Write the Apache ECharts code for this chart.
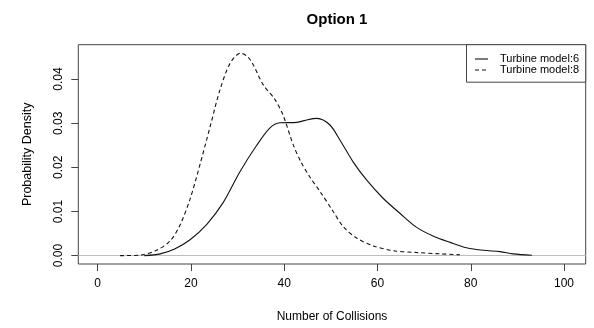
<!DOCTYPE html>
<html>
<head>
<meta charset="utf-8">
<script src="https://cdn.jsdelivr.net/npm/echarts@6/dist/echarts.min.js"></script>
<style>
html,body{margin:0;padding:0;background:#fff;}
#chart{width:594px;height:328px;}
</style>
</head>
<body>
<div id="chart"></div>
<script>
// Data
var seriesNames = ["Turbine model:6", "Turbine model:8"];
var model6 = [[10,0],[13.4,0.0004],[16.5,0.0015],[19.8,0.0036],[23.4,0.0071],[26.9,0.0120],[30.5,0.019],[34.1,0.025],[36.9,0.0289],[39.1,0.0301],[42.7,0.0302],[45,0.0308],[47,0.0311],[49.8,0.0296],[52,0.0261],[54.8,0.0212],[57.7,0.0171],[61.2,0.013],[64.8,0.0096],[68.4,0.0064],[72,0.0044],[75.6,0.0030],[79.1,0.0018],[82.7,0.0012],[86.3,0.0009],[89.1,0.0004],[93.1,0.0001]];
var model8 = [[4.8,0],[9,0.0001],[12.6,0.0012],[15.5,0.0033],[17.6,0.0068],[19.8,0.0128],[21.9,0.0205],[24.1,0.0292],[26.2,0.0375],[28.4,0.0436],[30.7,0.0459],[32.7,0.0444],[35.5,0.0387],[38,0.0354],[39.8,0.0317],[41.9,0.0252],[43.6,0.0212],[45.5,0.0178],[47.7,0.0145],[50.5,0.0100],[52.7,0.0065],[55.5,0.0040],[59.1,0.0022],[63.4,0.0011],[68.4,0.0007],[73.4,0.0004],[77.7,0.0002]];
var xTicks = [0, 20, 40, 60, 80, 100];
var yTicks = [0, 0.01, 0.02, 0.03, 0.04];
var titleText = "Option 1";
var xName = "Number of Collisions";
var yName = "Probability Density";

var chart = echarts.init(document.getElementById('chart'), null, {renderer:'canvas'});
var font = 'Liberation Sans, Arial, sans-serif';
var gl = 78.3, gt = 44.7, gw = 507.4, gh = 221.8;
var option = {
  animation: false,
  backgroundColor: '#fff',
  title: {
    text: titleText, left: 332, top: 7, textAlign: 'center',
    textStyle: {fontFamily: font, fontSize: 15, fontWeight: 'bold', color: '#000'}
  },
  grid: {left: gl, top: gt, width: gw, height: gh, show: true, borderColor: '#444', borderWidth: 1, backgroundColor: 'transparent'},
  xAxis: {
    type: 'value', min: -4.16, max: 104.65,
    name: xName, nameLocation: 'middle', nameGap: 47,
    nameTextStyle: {fontFamily: font, fontSize: 12, color: '#000'},
    axisLine: {show: false, onZero: false},
    axisTick: {show: true, length: 7, customValues: xTicks, lineStyle: {color: '#444'}},
    axisLabel: {customValues: xTicks, margin: 14, fontFamily: font, fontSize: 12, color: '#000'},
    splitLine: {show: false}
  },
  yAxis: {
    type: 'value', min: -0.0019, max: 0.0478,
    name: yName, nameLocation: 'middle', nameGap: 44,
    nameTextStyle: {fontFamily: font, fontSize: 12.5, color: '#000'},
    axisLine: {show: false, onZero: false},
    axisTick: {show: true, length: 7, customValues: yTicks, lineStyle: {color: '#444'}},
    axisLabel: {customValues: yTicks, rotate: 90, margin: 14, fontFamily: font, fontSize: 12, color: '#000',
      formatter: function(v){ return v.toFixed(2); }},
    splitLine: {show: false}
  },
  series: [
    {
      name: seriesNames[0], type: 'line', data: model6, symbol: 'none', smooth: 0.3,
      lineStyle: {color: '#111', width: 1.1, type: 'solid'}, z: 3,
      markLine: {silent: true, symbol: 'none', label: {show: false}, z: 1,
        lineStyle: {color: '#bdbdbd', width: 1, type: 'solid'}, data: [{yAxis: 0}]}
    },
    {
      name: seriesNames[1], type: 'line', data: model8, symbol: 'none', smooth: 0.3,
      lineStyle: {color: '#111', width: 1.1, type: [4, 3]}, z: 3
    }
  ],
  graphic: [
    {type: 'rect', shape: {x: 466.5, y: 44.7, width: 119.2, height: 37.5},
      style: {fill: '#fff', stroke: '#444', lineWidth: 1}, z: 10},
    {type: 'line', shape: {x1: 475, y1: 59, x2: 488, y2: 59}, style: {stroke: '#111', lineWidth: 1.1}, z: 11},
    {type: 'line', shape: {x1: 475, y1: 70, x2: 488, y2: 70}, style: {stroke: '#111', lineWidth: 1.1, lineDash: [4, 3]}, z: 11},
    {type: 'text', x: 500, y: 59, style: {text: seriesNames[0], fontFamily: font, fontSize: 11, fill: '#000', verticalAlign: 'middle', align: 'left'}, z: 11},
    {type: 'text', x: 500, y: 70, style: {text: seriesNames[1], fontFamily: font, fontSize: 11, fill: '#000', verticalAlign: 'middle', align: 'left'}, z: 11}
  ]
};
chart.setOption(option);
</script>
</body>
</html>
